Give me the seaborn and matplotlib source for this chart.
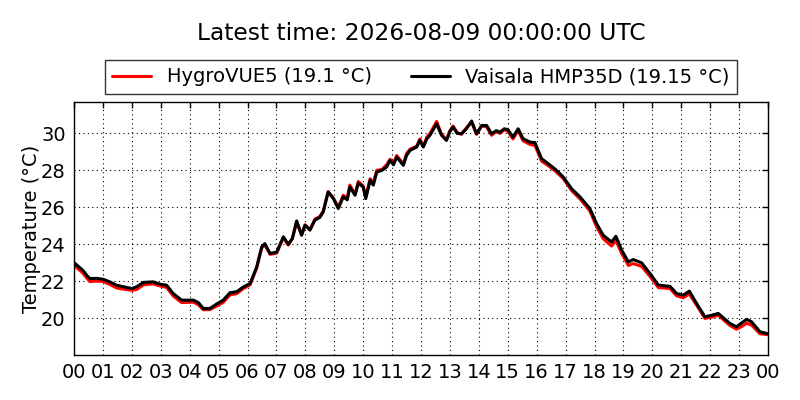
import matplotlib
matplotlib.use("Agg")
import matplotlib.pyplot as plt
import seaborn as sns
import pandas as pd

title = "Latest time: 2026-08-09 00:00:00 UTC"
series_names = ["HygroVUE5 (19.1 °C)", "Vaisala HMP35D (19.15 °C)"]
tick_labels = ["00", "01", "02", "03", "04", "05", "06", "07", "08", "09", "10", "11",
               "12", "13", "14", "15", "16", "17", "18", "19", "20", "21", "22", "23", "00"]

hours = [0.0, 0.15, 0.3, 0.45, 0.55, 0.8, 1.01, 1.24, 1.47, 1.7, 2.0, 2.17, 2.4, 2.6,
         2.74, 2.97, 3.2, 3.43, 3.72, 4.13, 4.3, 4.47, 4.7, 4.93, 5.16, 5.39, 5.63, 5.86,
         6.09, 6.32, 6.49, 6.6, 6.78, 7.01, 7.24, 7.41, 7.55, 7.7, 7.87, 7.99, 8.16, 8.33,
         8.5, 8.62, 8.79, 8.97, 9.14, 9.31, 9.45, 9.54, 9.72, 9.83, 10.0, 10.09, 10.24,
         10.35, 10.47, 10.65, 10.81, 10.93, 11.05, 11.16, 11.39, 11.5, 11.62, 11.85, 11.96,
         12.08, 12.2, 12.31, 12.54, 12.71, 12.88, 13.0, 13.11, 13.25, 13.4, 13.57, 13.75,
         13.92, 14.1, 14.27, 14.44, 14.6, 14.73, 14.88, 15.01, 15.18, 15.36, 15.53, 15.77,
         15.94, 16.17, 16.4, 16.65, 16.92, 17.21, 17.5, 17.84, 18.07, 18.3, 18.59, 18.74,
         18.94, 19.17, 19.34, 19.63, 19.92, 20.21, 20.61, 20.84, 21.07, 21.28, 21.53, 21.82,
         22.05, 22.28, 22.68, 22.91, 23.1, 23.26, 23.43, 23.72, 24.0]

vaisala = [23.0, 22.8, 22.6, 22.3, 22.14, 22.15, 22.1, 21.96, 21.78, 21.7, 21.6, 21.7, 21.93, 21.95,
           21.96, 21.84, 21.78, 21.33, 20.97, 20.97, 20.84, 20.52, 20.52, 20.76, 20.97, 21.37, 21.43, 21.69,
           21.87, 22.77, 23.85, 24.03, 23.5, 23.57, 24.4, 24.0, 24.3, 25.26, 24.49, 25.03, 24.76, 25.3,
           25.45, 25.75, 26.83, 26.47, 25.93, 26.56, 26.4, 27.1, 26.65, 27.3, 27.1, 26.47, 27.46,
           27.2, 27.9, 28.0, 28.18, 28.54, 28.3, 28.72, 28.27, 28.8, 29.08, 29.26, 29.62,
           29.26, 29.7, 29.9, 30.52, 29.9, 29.62, 30.1, 30.34, 30.0, 29.98, 30.25, 30.67,
           29.98, 30.43, 30.43, 29.98, 30.15, 30.07, 30.25, 30.2, 29.8, 30.25, 29.71, 29.53,
           29.5, 28.63, 28.36, 28.05, 27.64, 27.0, 26.56, 25.93, 25.12, 24.49, 24.12, 24.43,
           23.68, 23.04, 23.17, 22.99, 22.41, 21.78, 21.72, 21.33, 21.24, 21.46, 20.79, 20.07,
           20.15, 20.25, 19.71, 19.53, 19.75, 19.93, 19.8, 19.26, 19.15]

hygrovue = [22.85, 22.65, 22.45, 22.15, 21.98, 22.0, 21.98, 21.82, 21.63, 21.57, 21.5, 21.55, 21.8, 21.83,
            21.85, 21.74, 21.66, 21.2, 20.84, 20.86, 20.72, 20.45, 20.46, 20.65, 20.85, 21.25, 21.33, 21.6,
            21.8, 22.72, 23.8, 23.95, 23.45, 23.52, 24.35, 23.95, 24.3, 25.2, 24.5, 25.05, 24.8, 25.35,
            25.5, 25.8, 26.85, 26.5, 26.0, 26.65, 26.5, 27.2, 26.7, 27.4, 27.15, 26.55, 27.55,
            27.3, 28.0, 28.05, 28.3, 28.6, 28.4, 28.8, 28.35, 28.9, 29.15, 29.3, 29.7,
            29.3, 29.8, 30.0, 30.65, 29.95, 29.65, 30.15, 30.4, 30.05, 29.95, 30.3, 30.6,
            29.95, 30.4, 30.35, 29.9, 30.1, 30.0, 30.2, 30.1, 29.7, 30.15, 29.6, 29.4,
            29.35, 28.5, 28.25, 27.95, 27.55, 26.9, 26.45, 25.8, 24.95, 24.3, 23.9, 24.2,
            23.5, 22.85, 22.95, 22.8, 22.25, 21.65, 21.6, 21.2, 21.1, 21.3, 20.7, 19.98,
            20.05, 20.15, 19.6, 19.4, 19.55, 19.72, 19.62, 19.15, 19.1]

df = pd.DataFrame({
    "hour": hours * 2,
    "temp": hygrovue + vaisala,
    "sensor": [series_names[0]] * len(hours) + [series_names[1]] * len(hours),
})

sns.set_style("white")
plt.rcParams["font.family"] = ["DejaVu Sans"]
plt.rcParams["text.color"] = "black"
plt.rcParams["axes.labelcolor"] = "black"
plt.rcParams["xtick.color"] = "black"
plt.rcParams["ytick.color"] = "black"

fig = plt.figure(figsize=(8, 4), dpi=100)
ax = fig.add_axes([0.0925, 0.1125, 0.8675, 0.6325])

sns.lineplot(data=df, x="hour", y="temp", hue="sensor", hue_order=series_names,
             palette=["#ff0000", "#000000"], linewidth=2.2, ax=ax, legend=True,
             estimator=None, sort=False)

ax.set_xlim(0, 24)
ax.set_ylim(18.0, 31.7)
ax.set_xticks(list(range(25)))
ax.set_xticklabels(tick_labels)
ax.set_yticks([20, 22, 24, 26, 28, 30])
ax.set_xlabel("")
ax.set_ylabel("Temperature (°C)", fontsize=14, labelpad=0, color="black")
ax.tick_params(direction="in", length=4, width=1, labelsize=14, top=True, right=True,
               colors="black", labelcolor="black", pad=6)
ax.grid(True, color="black", linestyle=(0, (1, 3)), linewidth=0.8)
for s in ax.spines.values():
    s.set_color("black")
    s.set_linewidth(1)

handles, labels = ax.get_legend_handles_labels()
leg = ax.legend(handles, labels, ncol=2, loc="lower center", bbox_to_anchor=(0.5, 1.0),
                fontsize=14, frameon=True, fancybox=False, edgecolor="black",
                borderaxespad=0.4, handlelength=2.0, columnspacing=2.0, labelcolor="black")
leg.get_frame().set_linewidth(1)

fig.text(0.52625, 0.915, title, fontsize=16.8, ha="center", va="center", color="black")

fig.savefig("out.png", dpi=100, facecolor="white")
